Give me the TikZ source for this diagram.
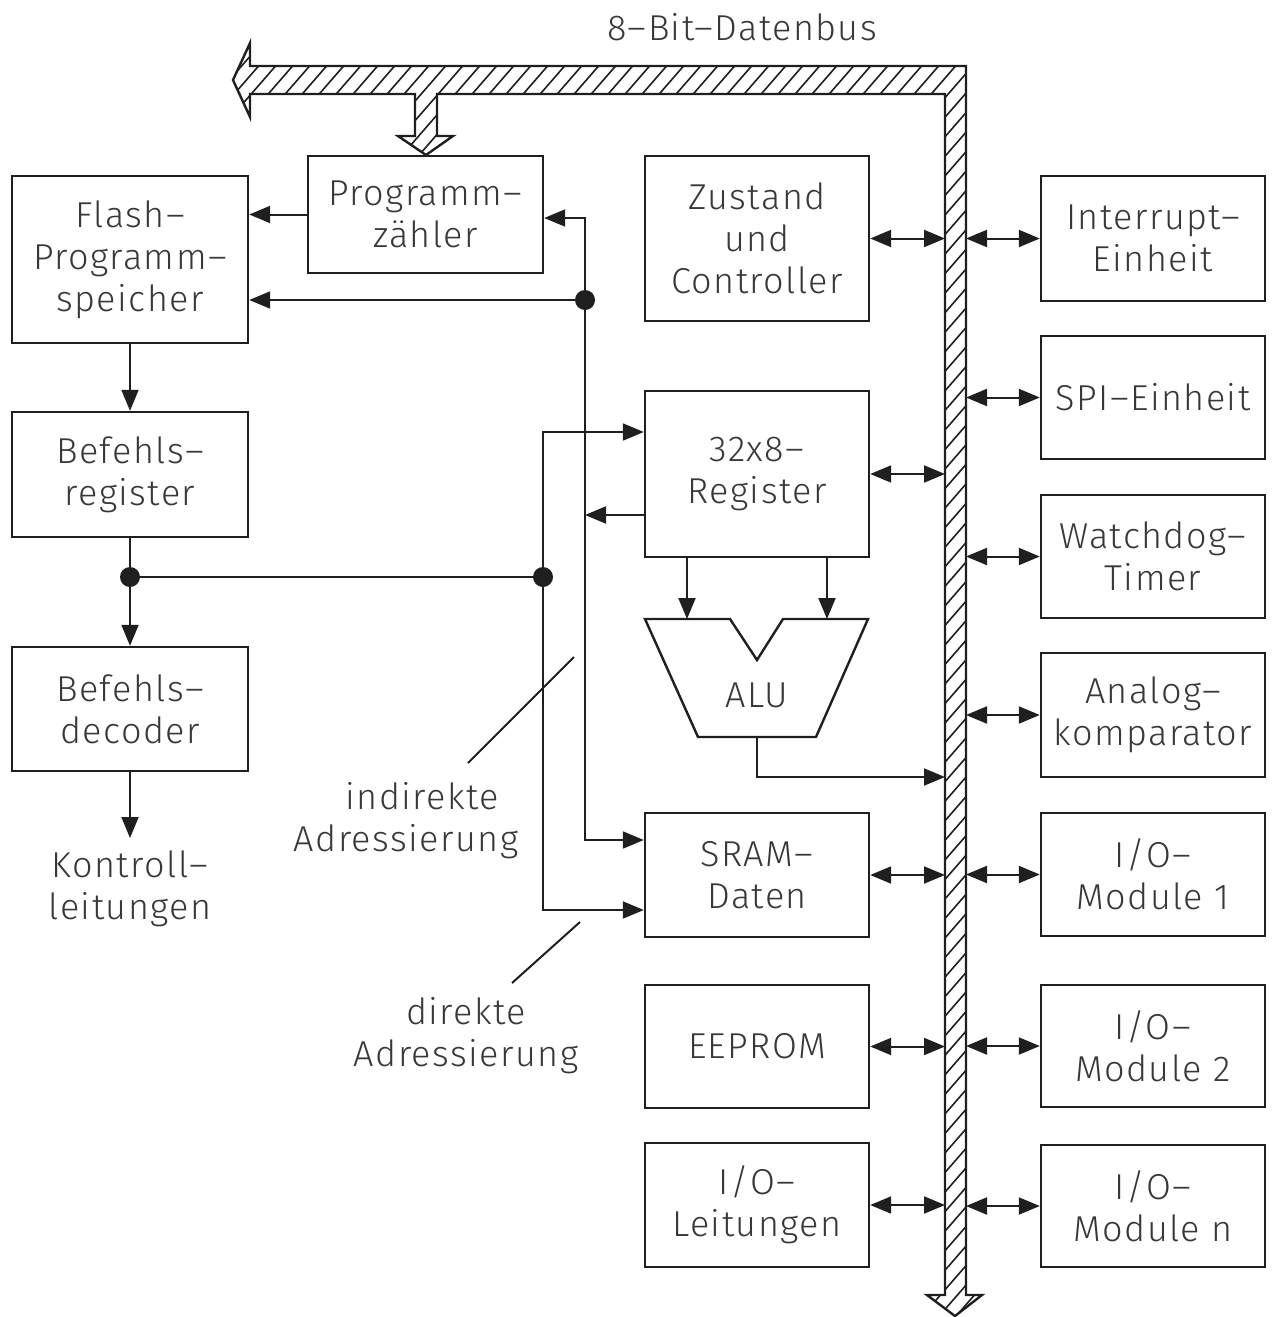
\documentclass[tikz,border=0pt]{standalone}
\usepackage{fontspec}
\setmainfont{Fira Sans}[UprightFont=* Light, LetterSpace=4]
\usetikzlibrary{arrows.meta}
\definecolor{ink}{gray}{0.12}
\definecolor{txt}{gray}{0.22}
\begin{document}
\begin{tikzpicture}[x=0.5pt,y=-0.5pt,
  txtfont/.style={font=\fontsize{18}{21}\selectfont, text=txt},
  blk/.style={draw=ink, line width=1.2pt, align=center, inner sep=0pt, txtfont},
  con/.style={draw=ink, line width=1pt},
  tip/.style={-{Triangle[length=10.5pt,width=8.5pt]}},
  dtip/.style={{Triangle[length=10.5pt,width=8.5pt]}-{Triangle[length=10.5pt,width=8.5pt]}},
  dot/.style={circle, fill=ink, inner sep=0pt, minimum width=8.5pt, minimum height=10pt},
  lbl/.style={align=center, inner sep=0pt, txtfont}]
\useasboundingbox (0,0) rectangle (1273,1317);

% ---------- bus ----------
\coordinate (busL) at (945,0);
\coordinate (busR) at (966,0);
\def\buspath{(233,80) -- (250,43) -- (250,66) -- (966,66) -- (966,1295) -- (982,1295) -- (955,1316) -- (927,1295) -- (945,1295) -- (945,94) -- (437,94) -- (437,136) -- (453,136) -- (426,155) -- (398,136) -- (415,136) -- (415,94) -- (250,94) -- (250,117) -- cycle}
\begin{scope}
  \clip \buspath;
  \foreach \t in {-1300,-1283,...,1400}
    \draw[ink, line width=0.8pt] (\t,1330) -- ++(1157,-1330);
\end{scope}
\draw[ink, line width=1.2pt, line join=miter] \buspath;
\node[lbl] (bus) at (742,27) {8–Bit–Datenbus};

% ---------- blocks ----------
\node[blk, minimum width=118pt, minimum height=83.5pt] (flash) at (130,259.5) {Flash–\\Programm–\\speicher};
\node[blk, minimum width=117.5pt, minimum height=58.5pt] (pz) at (425.5,214.5) {Programm–\\zähler};
\node[blk, minimum width=118pt, minimum height=62.5pt] (breg) at (130,474.5) {Befehls–\\register};
\node[blk, minimum width=118pt, minimum height=62pt] (bdec) at (130,709) {Befehls–\\decoder};

\node[blk, minimum width=112pt, minimum height=82.5pt] (zust) at (757,238.5) {Zustand\\und\\Controller};
\node[blk, minimum width=112pt, minimum height=83pt] (reg) at (757,474) {32x8–\\Register};
\node[blk, minimum width=112pt, minimum height=62pt] (sram) at (757,875) {SRAM–\\Daten};
\node[blk, minimum width=112pt, minimum height=61.5pt] (eeprom) at (757,1046.5) {EEPROM};
\node[blk, minimum width=112pt, minimum height=62pt] (iol) at (757,1205) {I/O–\\Leitungen};

\node[blk, minimum width=112pt, minimum height=62.5pt] (intr) at (1153,238.5) {Interrupt–\\Einheit};
\node[blk, minimum width=112pt, minimum height=61.5pt] (spi) at (1153,397.5) {SPI–Einheit};
\node[blk, minimum width=112pt, minimum height=61.5pt] (wdt) at (1153,556.5) {Watchdog–\\Timer};
\node[blk, minimum width=112pt, minimum height=62pt] (ana) at (1153,715) {Analog–\\komparator};
\node[blk, minimum width=112pt, minimum height=61.5pt] (io1) at (1153,874.5) {I/O–\\Module 1};
\node[blk, minimum width=112pt, minimum height=61pt] (io2) at (1153,1046) {I/O–\\Module 2};
\node[blk, minimum width=112pt, minimum height=61pt] (ion) at (1153,1206) {I/O–\\Module n};

% ---------- ALU ----------
\draw[ink, line width=1.2pt] (645,619) -- (730,619) -- (757,660) -- (783,619) -- (868,619) -- (816,737) -- (698,737) -- cycle;
\node[lbl] (alu) at (757,695) {ALU};
\coordinate (a1) at (687,619);
\coordinate (a2) at (827,619);
\draw[con,tip] (a1 |- reg.south) -- (a1);
\draw[con,tip] (a2 |- reg.south) -- (a2);
\coordinate (ao) at (757,737);
\coordinate (ao2) at (757,777);
\draw[con,tip] (ao) -- (ao2) -- (ao2 -| busL);

% ---------- bus connections ----------
\foreach \n in {zust,reg,sram,eeprom,iol}
  \draw[con,dtip] (\n.east) -- (\n.east -| busL);
\foreach \n in {intr,spi,wdt,ana,io1,io2,ion}
  \draw[con,dtip] (\n.west -| busR) -- (\n.west);

% ---------- left side connections ----------
\draw[con,tip] (pz.west) -- (pz.west -| flash.east);
\draw[con,tip] (flash.south) -- (breg.north);
\draw[con,tip] (breg.south) -- (bdec.north);
\coordinate (kl) at (130,838);
\draw[con,tip] (bdec.south) -- (kl);
\node[lbl] (kont) at (130,889) {Kontroll–\\leitungen};

\coordinate (j1) at (585,300);
\coordinate (c1) at (585,218);
\coordinate (c2) at (585,840);
\coordinate (c3) at (585,515);
\draw[con,tip] (j1) -- (c1) -- (c1 -| pz.east);
\draw[con,tip] (j1) -- (c2) -- (c2 -| sram.west);
\draw[con,tip] (j1) -- (j1 -| flash.east);
\draw[con,tip] (c3 -| reg.west) -- (c3);
\node[dot] (dj1) at (j1) {};

\coordinate (j2) at (130,577);
\coordinate (j3) at (543,577);
\coordinate (d1) at (543,432);
\coordinate (d2) at (543,910);
\draw[con] (j2) -- (j3);
\draw[con,tip] (j3) -- (d1) -- (d1 -| reg.west);
\draw[con,tip] (j3) -- (d2) -- (d2 -| sram.west);
\node[dot] (dj2) at (j2) {};
\node[dot] (dj3) at (j3) {};

% ---------- annotations ----------
\node[lbl] (ind) at (406,821) {\hspace*{0.9em}indirekte\\Adressierung};
\coordinate (i1) at (468,763);
\coordinate (i2) at (574,657);
\draw[con] (i1) -- (i2);
\node[lbl] (dir) at (466,1036) {direkte\\Adressierung};
\coordinate (e1) at (512,983);
\coordinate (e2) at (580,922);
\draw[con] (e1) -- (e2);
\end{tikzpicture}
\end{document}
